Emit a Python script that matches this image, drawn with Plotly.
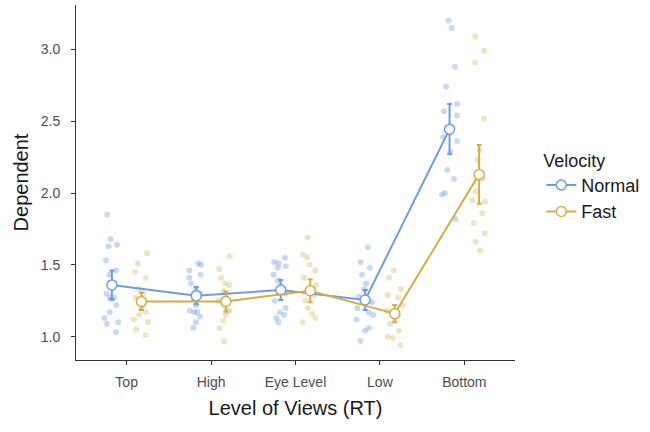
import plotly.graph_objects as go

categories = ["Top", "High", "Eye Level", "Low", "Bottom"]

normal_means = [1.36, 1.285, 1.325, 1.255, 2.445]
normal_err = [0.10, 0.06, 0.07, 0.07, 0.175]
fast_means = [1.245, 1.245, 1.32, 1.16, 2.13]
fast_err = [0.06, 0.07, 0.08, 0.06, 0.205]

normal_top = [1.85, 1.68, 1.64, 1.63, 1.53, 1.46, 1.43, 1.35, 1.30, 1.27, 1.26, 1.27, 1.22, 1.17, 1.13, 1.10, 1.09, 1.03]
fast_top = [1.58, 1.51, 1.45, 1.41, 1.33, 1.30, 1.27, 1.24, 1.22, 1.19, 1.17, 1.15, 1.12, 1.10, 1.05, 1.01]
normal_high = [1.51, 1.50, 1.46, 1.43, 1.41, 1.37, 1.33, 1.30, 1.26, 1.22, 1.18, 1.17, 1.17, 1.14, 1.10, 1.06]
fast_high = [1.56, 1.47, 1.41, 1.37, 1.36, 1.32, 1.28, 1.25, 1.22, 1.18, 1.18, 1.15, 1.11, 1.06, 0.97]
normal_eye = [1.55, 1.52, 1.51, 1.49, 1.48, 1.43, 1.39, 1.35, 1.30, 1.25, 1.20, 1.17, 1.15, 1.13, 1.10]
fast_eye = [1.69, 1.57, 1.55, 1.50, 1.46, 1.41, 1.36, 1.33, 1.29, 1.25, 1.20, 1.16, 1.13, 1.10]
normal_low = [1.62, 1.52, 1.48, 1.43, 1.37, 1.33, 1.28, 1.24, 1.20, 1.17, 1.15, 1.12, 1.06, 1.04, 0.97]
fast_low = [1.46, 1.41, 1.33, 1.29, 1.27, 1.22, 1.18, 1.15, 1.12, 1.09, 1.04, 1.00, 0.99, 0.94]
normal_bottom = [3.20, 3.15, 2.88, 2.74, 2.62, 2.57, 2.54, 2.39, 2.36, 2.29, 2.16, 2.10, 2.00, 1.99, 1.82]
fast_bottom = [3.09, 2.99, 2.91, 2.52, 2.30, 2.23, 2.10, 2.01, 1.95, 1.94, 1.86, 1.79, 1.72, 1.66, 1.60]

normal_points = [normal_top, normal_high, normal_eye, normal_low, normal_bottom]
fast_points = [fast_top, fast_high, fast_eye, fast_low, fast_bottom]

BLUE = "#6f9be0"
GOLD = "#d2ad4a"
BLUE_PT = "rgba(111,155,224,0.38)"
GOLD_PT = "rgba(210,185,100,0.38)"
FONT = "Liberation Sans, Arial, sans-serif"


def flatten(groups):
    xs, ys = [], []
    for cat, vals in zip(categories, groups):
        xs += [cat] * len(vals)
        ys += vals
    return xs, ys


fig = go.Figure()

for name, groups, col in [("Normal", normal_points, BLUE_PT), ("Fast", fast_points, GOLD_PT)]:
    xs, ys = flatten(groups)
    fig.add_trace(go.Box(
        x=xs, y=ys, name=name, boxpoints="all", jitter=0.6, pointpos=0,
        fillcolor="rgba(0,0,0,0)", line=dict(width=0, color="rgba(0,0,0,0)"),
        marker=dict(color=col, size=6), showlegend=False, hoverinfo="skip",
        offsetgroup=name,
    ))

for name, means, errs, col in [("Normal", normal_means, normal_err, BLUE), ("Fast", fast_means, fast_err, GOLD)]:
    fig.add_trace(go.Scatter(
        x=categories, y=means, name=name, mode="lines+markers",
        line=dict(color=col, width=2),
        marker=dict(size=10, color="white", line=dict(color=col, width=1.5)),
        error_y=dict(type="data", array=errs, color=col, thickness=2, width=2.5),
        offsetgroup=name,
    ))

fig.update_layout(
    width=650, height=432,
    margin=dict(l=76, r=133, t=5, b=72),
    paper_bgcolor="white", plot_bgcolor="white",
    boxmode="group", boxgap=0.3, boxgroupgap=0.0,
    scattermode="group", scattergap=0.3,
    font=dict(family=FONT, color="#1a1a1a"),
    legend=dict(
        title=dict(text="Velocity", font=dict(size=18, color="#1a1a1a")),
        font=dict(size=18, color="#1a1a1a"),
        x=1.06, xanchor="left", y=0.61, yanchor="top",
        bgcolor="rgba(0,0,0,0)", itemwidth=30, tracegroupgap=0,
    ),
    xaxis=dict(
        categoryorder="array", categoryarray=categories,
        range=[-0.6, 4.6],
        showline=True, linecolor="#333333", linewidth=1,
        ticks="outside", ticklen=4, tickcolor="#333333",
        tickfont=dict(size=14, color="#4d4d4d"), ticklabelstandoff=5,
        showgrid=False, zeroline=False,
        title=dict(text="Level of Views (RT)", font=dict(size=20, color="#1a1a1a"), standoff=12),
    ),
    yaxis=dict(
        range=[0.837, 3.31],
        tickvals=[1.0, 1.5, 2.0, 2.5, 3.0], ticktext=["1.0", "1.5", "2.0", "2.5", "3.0"],
        showline=True, linecolor="#333333", linewidth=1,
        ticks="outside", ticklen=4, tickcolor="#333333",
        tickfont=dict(size=14, color="#4d4d4d"), ticklabelstandoff=8,
        showgrid=False, zeroline=False,
        title=dict(text="Dependent", font=dict(size=20, color="#1a1a1a"), standoff=6),
    ),
)

fig.write_html("out.html", config={"displayModeBar": False},
               post_script="document.body.style.margin='0';")
